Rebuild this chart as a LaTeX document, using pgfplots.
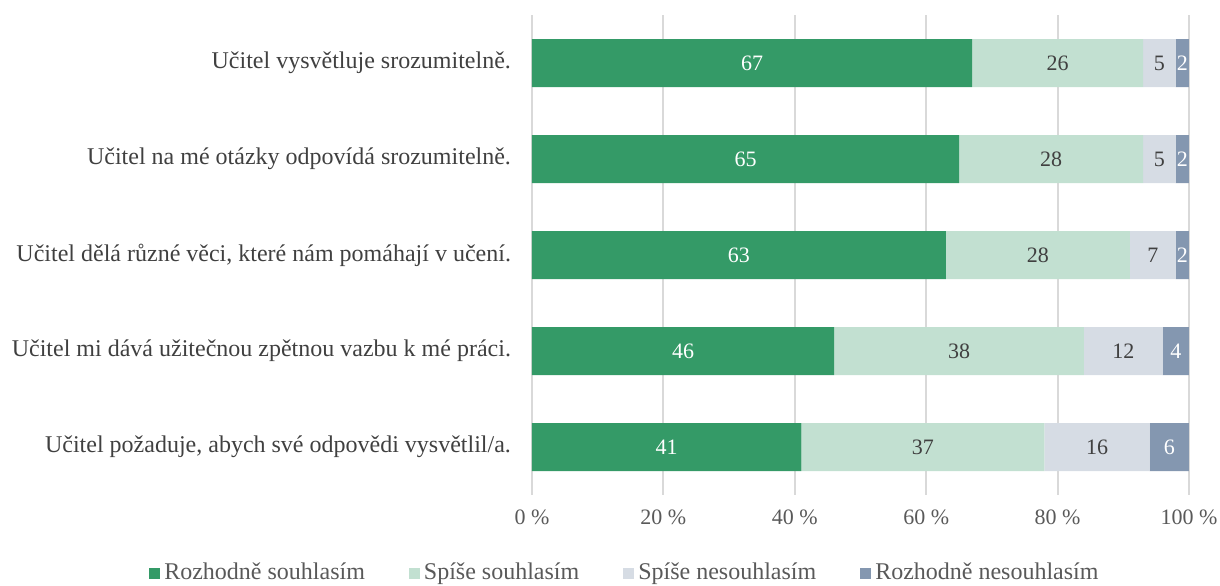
\documentclass[border=0pt]{standalone}
\usepackage{pgfplots}
\pgfplotsset{compat=1.18}
\usepackage{pgfplotstable}
\usepackage{fontspec}
\setmainfont{Liberation Serif}

\definecolor{cA}{RGB}{52,154,103}
\definecolor{cB}{RGB}{194,224,209}
\definecolor{cC}{RGB}{214,220,228}
\definecolor{cD}{RGB}{132,151,176}
\definecolor{gridc}{RGB}{217,217,217}
\definecolor{tickc}{RGB}{89,89,89}
\definecolor{labc}{RGB}{64,64,64}

\pgfplotstableread{
idx a b c d
0 67 26 5 2
1 65 28 5 2
2 63 28 7 2
3 46 38 12 4
4 41 37 16 6
}\survey

\begin{document}
\begin{tikzpicture}
\useasboundingbox (-266pt,-45pt) rectangle (344pt,247.5pt);
\begin{axis}[
    at={(0,0)}, anchor=south west,
    scale only axis, width=328.5pt, height=240pt,
    xbar stacked, bar width=24pt,
    xmin=0, xmax=100, ymin=-0.5, ymax=4.5,
    y dir=reverse,
    ytick={0,1,2,3,4},
    yticklabels={{Učitel vysvětluje srozumitelně.},
                 {Učitel na mé otázky odpovídá srozumitelně.},
                 {Učitel dělá různé věci, které nám pomáhají v učení.},
                 {Učitel mi dává užitečnou zpětnou vazbu k mé práci.},
                 {Učitel požaduje, abych své odpovědi vysvětlil/a.}},
    xtick={0,20,40,60,80,100},
    xticklabel={\pgfmathprintnumber{\tick}~\%},
    /pgf/number format/assume math mode=true,
    major tick length=0pt,
    axis line style={draw=none},
    xmajorgrids, grid style={gridc, line width=1pt},
    yticklabel style={font=\fontsize{12}{14}\selectfont, text=labc, xshift=-7pt},
    xticklabel style={font=\fontsize{11}{13}\selectfont, text=tickc, yshift=-4pt},
    nodes near coords,
    every node near coord/.append style={font=\fontsize{11}{13}\selectfont},
    legend columns=4,
    legend style={at={(0.143,-0.1625)}, anchor=center, draw=none, fill=none,
        font=\fontsize{12}{14}\selectfont, text=tickc,
        /tikz/every even column/.append style={column sep=20pt}},
    legend image code/.code={\fill[#1] (0pt,-2.75pt) rectangle (5.5pt,2.75pt);},
    legend cell align=left,
    clip=false,
]
\addplot[fill=cA, draw=none, point meta=explicit,
    every node near coord/.append style={anchor=center, text=white}]
    table[x=a, y=idx, meta=a] {\survey};
\addplot[fill=cB, draw=none, point meta=explicit,
    every node near coord/.append style={anchor=center, text=labc}]
    table[x=b, y=idx, meta=b] {\survey};
\addplot[fill=cC, draw=none, point meta=explicit,
    every node near coord/.append style={anchor=center, text=labc}]
    table[x=c, y=idx, meta=c] {\survey};
\addplot[fill=cD, draw=none, point meta=explicit,
    every node near coord/.append style={anchor=center, text=white}]
    table[x=d, y=idx, meta=d] {\survey};
\legend{Rozhodně souhlasím, Spíše souhlasím, Spíše nesouhlasím, Rozhodně nesouhlasím}
\end{axis}
\end{tikzpicture}
\end{document}
